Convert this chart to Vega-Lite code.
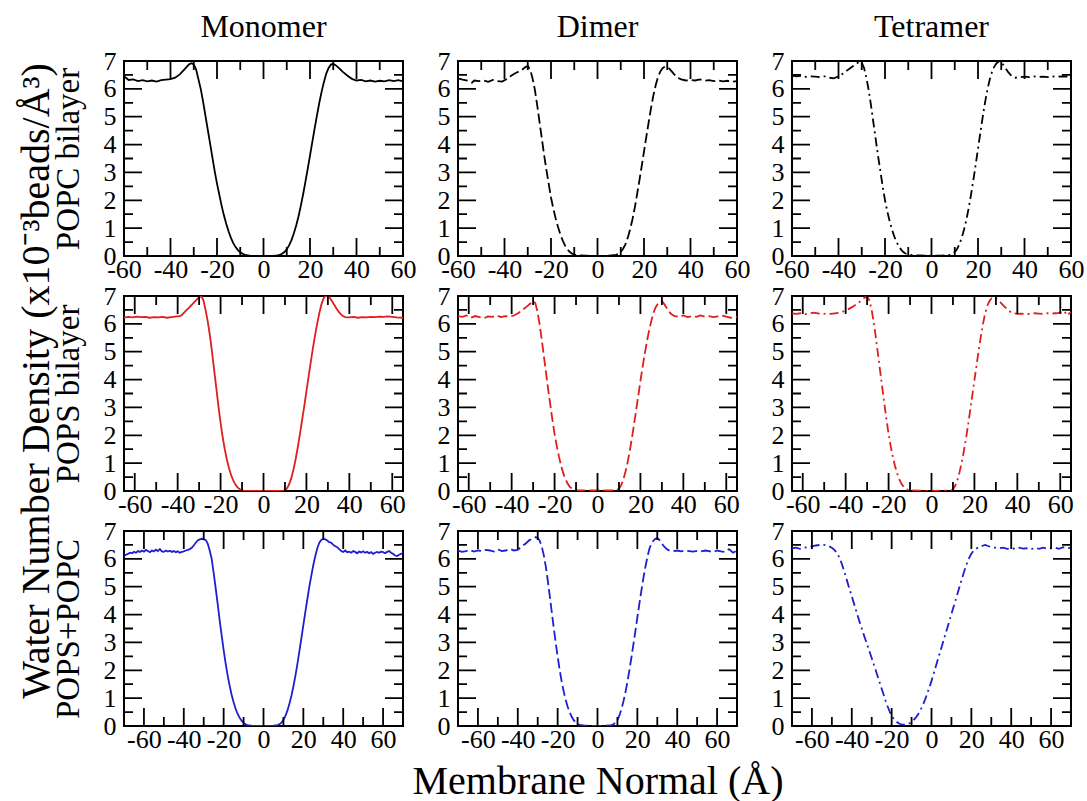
{
  "$schema": "https://vega.github.io/schema/vega-lite/v6.json",
  "padding": {"left": 16, "top": 10, "right": 0, "bottom": 0},
  "background": "white",
  "title": {"text": "Water Number Density (x10⁻³beads/Å³)", "orient": "left", "anchor": "middle", "fontSize": 40, "offset": -6, "dx": 25},
  "columns": 3,
  "bounds": "flush",
  "spacing": {"row": 40, "column": 55},
  "datasets": {
    "xM": [{"x":-60},{"x":-40},{"x":-20},{"x":0},{"x":20},{"x":40},{"x":60}],
    "xm": [{"x":-50},{"x":-30},{"x":-10},{"x":10},{"x":30},{"x":50}],
    "yM": [{"y":0},{"y":1},{"y":2},{"y":3},{"y":4},{"y":5},{"y":6},{"y":7}],
    "ym": [{"y":0.5},{"y":1.5},{"y":2.5},{"y":3.5},{"y":4.5},{"y":5.5},{"y":6.5}],
    "popc_m": [{"x":-60,"y":6.45},{"x":-58,"y":6.32},{"x":-56,"y":6.34},{"x":-54,"y":6.28},{"x":-52,"y":6.31},{"x":-50,"y":6.27},{"x":-48,"y":6.30},{"x":-46,"y":6.26},{"x":-44,"y":6.31},{"x":-42,"y":6.33},{"x":-40,"y":6.35},{"x":-38,"y":6.40},{"x":-36,"y":6.52},{"x":-34,"y":6.70},{"x":-32,"y":6.88},{"x":-31,"y":6.92},{"x":-30,"y":6.88},{"x":-29,"y":6.70},{"x":-28,"y":6.35},{"x":-27,"y":6.00},{"x":-26,"y":5.55},{"x":-25,"y":5.05},{"x":-24,"y":4.55},{"x":-23,"y":4.05},{"x":-22,"y":3.55},{"x":-21,"y":3.05},{"x":-20,"y":2.60},{"x":-19,"y":2.20},{"x":-18,"y":1.80},{"x":-17,"y":1.45},{"x":-16,"y":1.15},{"x":-15,"y":0.88},{"x":-14,"y":0.65},{"x":-13,"y":0.46},{"x":-12,"y":0.32},{"x":-11,"y":0.21},{"x":-10,"y":0.13},{"x":-9,"y":0.08},{"x":-8,"y":0.04},{"x":-6,"y":0.015},{"x":-4,"y":0.005},{"x":-2,"y":0},{"x":0,"y":0},{"x":2,"y":0},{"x":4,"y":0.005},{"x":6,"y":0.02},{"x":7,"y":0.04},{"x":8,"y":0.08},{"x":9,"y":0.14},{"x":10,"y":0.24},{"x":11,"y":0.38},{"x":12,"y":0.56},{"x":13,"y":0.80},{"x":14,"y":1.08},{"x":15,"y":1.40},{"x":16,"y":1.78},{"x":17,"y":2.20},{"x":18,"y":2.65},{"x":19,"y":3.12},{"x":20,"y":3.60},{"x":21,"y":4.10},{"x":22,"y":4.58},{"x":23,"y":5.05},{"x":24,"y":5.50},{"x":25,"y":5.90},{"x":26,"y":6.25},{"x":27,"y":6.55},{"x":28,"y":6.75},{"x":29,"y":6.87},{"x":30,"y":6.90},{"x":31,"y":6.85},{"x":32,"y":6.78},{"x":34,"y":6.62},{"x":36,"y":6.48},{"x":38,"y":6.36},{"x":40,"y":6.30},{"x":42,"y":6.32},{"x":44,"y":6.27},{"x":46,"y":6.30},{"x":48,"y":6.26},{"x":50,"y":6.29},{"x":52,"y":6.27},{"x":54,"y":6.31},{"x":56,"y":6.28},{"x":58,"y":6.31},{"x":60,"y":6.27}],
    "popc_d": [{"x":-60,"y":6.38},{"x":-58,"y":6.33},{"x":-56,"y":6.30},{"x":-54,"y":6.22},{"x":-53,"y":6.30},{"x":-51,"y":6.28},{"x":-49,"y":6.30},{"x":-47,"y":6.25},{"x":-45,"y":6.32},{"x":-43,"y":6.28},{"x":-41,"y":6.26},{"x":-39,"y":6.35},{"x":-37,"y":6.48},{"x":-35,"y":6.58},{"x":-33,"y":6.65},{"x":-31,"y":6.78},{"x":-30,"y":6.82},{"x":-29,"y":6.70},{"x":-28,"y":6.40},{"x":-27,"y":6.00},{"x":-26,"y":5.45},{"x":-25,"y":4.85},{"x":-24,"y":4.25},{"x":-23,"y":3.65},{"x":-22,"y":3.10},{"x":-21,"y":2.60},{"x":-20,"y":2.10},{"x":-19,"y":1.70},{"x":-18,"y":1.35},{"x":-17,"y":1.05},{"x":-16,"y":0.78},{"x":-15,"y":0.56},{"x":-14,"y":0.38},{"x":-13,"y":0.25},{"x":-12,"y":0.15},{"x":-11,"y":0.09},{"x":-10,"y":0.05},{"x":-8,"y":0.02},{"x":-5,"y":0.01},{"x":0,"y":0},{"x":5,"y":0.01},{"x":8,"y":0.04},{"x":9,"y":0.08},{"x":10,"y":0.15},{"x":11,"y":0.26},{"x":12,"y":0.42},{"x":13,"y":0.65},{"x":14,"y":0.95},{"x":15,"y":1.30},{"x":16,"y":1.72},{"x":17,"y":2.20},{"x":18,"y":2.70},{"x":19,"y":3.22},{"x":20,"y":3.75},{"x":21,"y":4.28},{"x":22,"y":4.80},{"x":23,"y":5.30},{"x":24,"y":5.75},{"x":25,"y":6.12},{"x":26,"y":6.42},{"x":27,"y":6.62},{"x":28,"y":6.74},{"x":29,"y":6.80},{"x":30,"y":6.78},{"x":31,"y":6.72},{"x":32,"y":6.62},{"x":33,"y":6.52},{"x":34,"y":6.44},{"x":35,"y":6.38},{"x":36,"y":6.34},{"x":38,"y":6.30},{"x":40,"y":6.32},{"x":42,"y":6.30},{"x":44,"y":6.34},{"x":46,"y":6.29},{"x":48,"y":6.31},{"x":50,"y":6.28},{"x":52,"y":6.30},{"x":54,"y":6.27},{"x":56,"y":6.29},{"x":58,"y":6.26},{"x":60,"y":6.28}],
    "popc_t": [{"x":-60,"y":6.48},{"x":-58,"y":6.45},{"x":-56,"y":6.47},{"x":-54,"y":6.43},{"x":-52,"y":6.45},{"x":-50,"y":6.44},{"x":-48,"y":6.42},{"x":-46,"y":6.45},{"x":-44,"y":6.40},{"x":-42,"y":6.38},{"x":-40,"y":6.45},{"x":-38,"y":6.55},{"x":-36,"y":6.68},{"x":-34,"y":6.80},{"x":-32,"y":6.92},{"x":-31,"y":6.98},{"x":-30,"y":6.95},{"x":-29,"y":6.75},{"x":-28,"y":6.40},{"x":-27,"y":5.95},{"x":-26,"y":5.40},{"x":-25,"y":4.80},{"x":-24,"y":4.20},{"x":-23,"y":3.60},{"x":-22,"y":3.05},{"x":-21,"y":2.50},{"x":-20,"y":2.00},{"x":-19,"y":1.60},{"x":-18,"y":1.25},{"x":-17,"y":0.95},{"x":-16,"y":0.70},{"x":-15,"y":0.50},{"x":-14,"y":0.34},{"x":-13,"y":0.22},{"x":-12,"y":0.13},{"x":-11,"y":0.08},{"x":-10,"y":0.05},{"x":-8,"y":0.03},{"x":-5,"y":0.02},{"x":0,"y":0.01},{"x":5,"y":0.02},{"x":8,"y":0.04},{"x":9,"y":0.08},{"x":10,"y":0.14},{"x":11,"y":0.25},{"x":12,"y":0.42},{"x":13,"y":0.65},{"x":14,"y":0.95},{"x":15,"y":1.30},{"x":16,"y":1.72},{"x":17,"y":2.20},{"x":18,"y":2.72},{"x":19,"y":3.28},{"x":20,"y":3.85},{"x":21,"y":4.42},{"x":22,"y":4.98},{"x":23,"y":5.50},{"x":24,"y":5.95},{"x":25,"y":6.32},{"x":26,"y":6.60},{"x":27,"y":6.80},{"x":28,"y":6.92},{"x":29,"y":6.98},{"x":30,"y":6.95},{"x":31,"y":6.85},{"x":32,"y":6.72},{"x":33,"y":6.60},{"x":34,"y":6.50},{"x":35,"y":6.43},{"x":36,"y":6.40},{"x":38,"y":6.42},{"x":40,"y":6.44},{"x":42,"y":6.42},{"x":44,"y":6.45},{"x":46,"y":6.43},{"x":48,"y":6.44},{"x":50,"y":6.42},{"x":52,"y":6.45},{"x":54,"y":6.43},{"x":56,"y":6.45},{"x":58,"y":6.44},{"x":60,"y":6.50}],
    "pops_m": [{"x":-65,"y":6.22},{"x":-63,"y":6.25},{"x":-61,"y":6.23},{"x":-59,"y":6.26},{"x":-57,"y":6.24},{"x":-55,"y":6.25},{"x":-53,"y":6.22},{"x":-51,"y":6.24},{"x":-49,"y":6.23},{"x":-47,"y":6.25},{"x":-45,"y":6.22},{"x":-43,"y":6.24},{"x":-41,"y":6.26},{"x":-39,"y":6.28},{"x":-38,"y":6.32},{"x":-37,"y":6.40},{"x":-36,"y":6.48},{"x":-35,"y":6.56},{"x":-34,"y":6.64},{"x":-33,"y":6.72},{"x":-32,"y":6.80},{"x":-31,"y":6.88},{"x":-30,"y":6.95},{"x":-29,"y":7.0},{"x":-28,"y":6.85},{"x":-27,"y":6.50},{"x":-26,"y":6.10},{"x":-25,"y":5.60},{"x":-24,"y":5.00},{"x":-23,"y":4.35},{"x":-22,"y":3.70},{"x":-21,"y":3.05},{"x":-20,"y":2.45},{"x":-19,"y":1.92},{"x":-18,"y":1.48},{"x":-17,"y":1.10},{"x":-16,"y":0.80},{"x":-15,"y":0.55},{"x":-14,"y":0.36},{"x":-13,"y":0.22},{"x":-12,"y":0.12},{"x":-11,"y":0.06},{"x":-10,"y":0.02},{"x":-9,"y":0.005},{"x":-5,"y":0},{"x":0,"y":0},{"x":5,"y":0},{"x":9,"y":0.005},{"x":10,"y":0.03},{"x":11,"y":0.10},{"x":12,"y":0.25},{"x":13,"y":0.48},{"x":14,"y":0.78},{"x":15,"y":1.15},{"x":16,"y":1.58},{"x":17,"y":2.05},{"x":18,"y":2.55},{"x":19,"y":3.05},{"x":20,"y":3.58},{"x":21,"y":4.10},{"x":22,"y":4.62},{"x":23,"y":5.12},{"x":24,"y":5.58},{"x":25,"y":6.00},{"x":26,"y":6.38},{"x":27,"y":6.70},{"x":28,"y":6.92},{"x":29,"y":7.0},{"x":30,"y":7.0},{"x":31,"y":6.92},{"x":32,"y":6.80},{"x":33,"y":6.68},{"x":34,"y":6.55},{"x":35,"y":6.44},{"x":36,"y":6.35},{"x":37,"y":6.28},{"x":38,"y":6.24},{"x":40,"y":6.23},{"x":42,"y":6.25},{"x":44,"y":6.22},{"x":46,"y":6.24},{"x":48,"y":6.23},{"x":50,"y":6.25},{"x":52,"y":6.24},{"x":54,"y":6.26},{"x":56,"y":6.25},{"x":58,"y":6.27},{"x":60,"y":6.25},{"x":62,"y":6.23},{"x":65,"y":6.22}],
    "pops_d": [{"x":-65,"y":6.28},{"x":-63,"y":6.25},{"x":-61,"y":6.30},{"x":-59,"y":6.22},{"x":-57,"y":6.28},{"x":-55,"y":6.24},{"x":-53,"y":6.20},{"x":-51,"y":6.27},{"x":-49,"y":6.25},{"x":-47,"y":6.30},{"x":-45,"y":6.24},{"x":-43,"y":6.28},{"x":-41,"y":6.26},{"x":-39,"y":6.30},{"x":-37,"y":6.38},{"x":-35,"y":6.50},{"x":-33,"y":6.62},{"x":-31,"y":6.75},{"x":-30,"y":6.82},{"x":-29,"y":6.75},{"x":-28,"y":6.45},{"x":-27,"y":6.00},{"x":-26,"y":5.45},{"x":-25,"y":4.85},{"x":-24,"y":4.25},{"x":-23,"y":3.65},{"x":-22,"y":3.10},{"x":-21,"y":2.55},{"x":-20,"y":2.05},{"x":-19,"y":1.62},{"x":-18,"y":1.25},{"x":-17,"y":0.92},{"x":-16,"y":0.65},{"x":-15,"y":0.44},{"x":-14,"y":0.28},{"x":-13,"y":0.16},{"x":-12,"y":0.09},{"x":-11,"y":0.05},{"x":-10,"y":0.03},{"x":-5,"y":0.02},{"x":0,"y":0.02},{"x":5,"y":0.02},{"x":9,"y":0.03},{"x":10,"y":0.08},{"x":11,"y":0.20},{"x":12,"y":0.40},{"x":13,"y":0.68},{"x":14,"y":1.02},{"x":15,"y":1.42},{"x":16,"y":1.88},{"x":17,"y":2.38},{"x":18,"y":2.90},{"x":19,"y":3.42},{"x":20,"y":3.95},{"x":21,"y":4.45},{"x":22,"y":4.92},{"x":23,"y":5.35},{"x":24,"y":5.75},{"x":25,"y":6.08},{"x":26,"y":6.38},{"x":27,"y":6.58},{"x":28,"y":6.70},{"x":29,"y":6.78},{"x":30,"y":6.82},{"x":31,"y":6.72},{"x":32,"y":6.60},{"x":33,"y":6.48},{"x":34,"y":6.38},{"x":35,"y":6.32},{"x":36,"y":6.28},{"x":38,"y":6.25},{"x":40,"y":6.30},{"x":42,"y":6.24},{"x":44,"y":6.28},{"x":46,"y":6.25},{"x":48,"y":6.30},{"x":50,"y":6.26},{"x":52,"y":6.28},{"x":54,"y":6.24},{"x":56,"y":6.27},{"x":58,"y":6.30},{"x":60,"y":6.26},{"x":62,"y":6.22},{"x":65,"y":6.25}],
    "pops_t": [{"x":-65,"y":6.38},{"x":-63,"y":6.36},{"x":-61,"y":6.38},{"x":-59,"y":6.35},{"x":-57,"y":6.37},{"x":-55,"y":6.40},{"x":-53,"y":6.38},{"x":-51,"y":6.35},{"x":-49,"y":6.37},{"x":-47,"y":6.36},{"x":-45,"y":6.38},{"x":-43,"y":6.40},{"x":-41,"y":6.45},{"x":-39,"y":6.52},{"x":-37,"y":6.60},{"x":-35,"y":6.70},{"x":-33,"y":6.82},{"x":-31,"y":6.95},{"x":-30,"y":6.98},{"x":-29,"y":6.85},{"x":-28,"y":6.55},{"x":-27,"y":6.10},{"x":-26,"y":5.55},{"x":-25,"y":4.95},{"x":-24,"y":4.35},{"x":-23,"y":3.75},{"x":-22,"y":3.15},{"x":-21,"y":2.58},{"x":-20,"y":2.05},{"x":-19,"y":1.60},{"x":-18,"y":1.22},{"x":-17,"y":0.90},{"x":-16,"y":0.63},{"x":-15,"y":0.42},{"x":-14,"y":0.26},{"x":-13,"y":0.15},{"x":-12,"y":0.08},{"x":-11,"y":0.04},{"x":-10,"y":0.02},{"x":-5,"y":0.01},{"x":0,"y":0},{"x":5,"y":0.01},{"x":9,"y":0.02},{"x":10,"y":0.06},{"x":11,"y":0.18},{"x":12,"y":0.38},{"x":13,"y":0.65},{"x":14,"y":1.00},{"x":15,"y":1.40},{"x":16,"y":1.85},{"x":17,"y":2.35},{"x":18,"y":2.88},{"x":19,"y":3.42},{"x":20,"y":3.98},{"x":21,"y":4.52},{"x":22,"y":5.05},{"x":23,"y":5.55},{"x":24,"y":6.00},{"x":25,"y":6.38},{"x":26,"y":6.65},{"x":27,"y":6.82},{"x":28,"y":6.92},{"x":29,"y":6.95},{"x":30,"y":6.92},{"x":31,"y":6.85},{"x":32,"y":6.78},{"x":33,"y":6.70},{"x":34,"y":6.62},{"x":35,"y":6.55},{"x":36,"y":6.48},{"x":37,"y":6.42},{"x":38,"y":6.38},{"x":40,"y":6.36},{"x":42,"y":6.37},{"x":44,"y":6.35},{"x":46,"y":6.36},{"x":48,"y":6.38},{"x":50,"y":6.37},{"x":52,"y":6.36},{"x":54,"y":6.38},{"x":56,"y":6.37},{"x":58,"y":6.38},{"x":60,"y":6.40},{"x":62,"y":6.45},{"x":63,"y":6.30},{"x":65,"y":6.42}],
    "mix_m": [{"x":-70,"y":6.10},{"x":-69,"y":6.15},{"x":-68,"y":6.18},{"x":-67,"y":6.22},{"x":-66,"y":6.20},{"x":-65,"y":6.25},{"x":-64,"y":6.22},{"x":-63,"y":6.28},{"x":-62,"y":6.25},{"x":-61,"y":6.30},{"x":-60,"y":6.26},{"x":-59,"y":6.32},{"x":-58,"y":6.28},{"x":-57,"y":6.24},{"x":-56,"y":6.30},{"x":-55,"y":6.27},{"x":-54,"y":6.33},{"x":-53,"y":6.28},{"x":-52,"y":6.35},{"x":-51,"y":6.27},{"x":-50,"y":6.25},{"x":-49,"y":6.30},{"x":-48,"y":6.26},{"x":-47,"y":6.29},{"x":-46,"y":6.25},{"x":-45,"y":6.28},{"x":-44,"y":6.24},{"x":-43,"y":6.27},{"x":-42,"y":6.22},{"x":-41,"y":6.25},{"x":-40,"y":6.27},{"x":-39,"y":6.30},{"x":-38,"y":6.32},{"x":-37,"y":6.35},{"x":-36,"y":6.40},{"x":-35,"y":6.48},{"x":-34,"y":6.58},{"x":-33,"y":6.66},{"x":-32,"y":6.70},{"x":-31,"y":6.72},{"x":-30,"y":6.70},{"x":-29,"y":6.68},{"x":-28,"y":6.55},{"x":-27,"y":6.30},{"x":-26,"y":6.00},{"x":-25,"y":5.50},{"x":-24,"y":4.95},{"x":-23,"y":4.38},{"x":-22,"y":3.80},{"x":-21,"y":3.25},{"x":-20,"y":2.72},{"x":-19,"y":2.25},{"x":-18,"y":1.82},{"x":-17,"y":1.45},{"x":-16,"y":1.12},{"x":-15,"y":0.85},{"x":-14,"y":0.62},{"x":-13,"y":0.44},{"x":-12,"y":0.30},{"x":-11,"y":0.19},{"x":-10,"y":0.11},{"x":-9,"y":0.06},{"x":-8,"y":0.03},{"x":-6,"y":0.01},{"x":-3,"y":0},{"x":0,"y":0},{"x":3,"y":0},{"x":5,"y":0.01},{"x":7,"y":0.03},{"x":8,"y":0.06},{"x":9,"y":0.12},{"x":10,"y":0.22},{"x":11,"y":0.36},{"x":12,"y":0.55},{"x":13,"y":0.80},{"x":14,"y":1.08},{"x":15,"y":1.42},{"x":16,"y":1.80},{"x":17,"y":2.22},{"x":18,"y":2.68},{"x":19,"y":3.15},{"x":20,"y":3.62},{"x":21,"y":4.10},{"x":22,"y":4.55},{"x":23,"y":5.00},{"x":24,"y":5.40},{"x":25,"y":5.78},{"x":26,"y":6.10},{"x":27,"y":6.38},{"x":28,"y":6.58},{"x":29,"y":6.68},{"x":30,"y":6.72},{"x":31,"y":6.70},{"x":32,"y":6.66},{"x":33,"y":6.60},{"x":34,"y":6.58},{"x":35,"y":6.50},{"x":36,"y":6.45},{"x":37,"y":6.42},{"x":38,"y":6.35},{"x":39,"y":6.28},{"x":40,"y":6.25},{"x":41,"y":6.30},{"x":42,"y":6.24},{"x":43,"y":6.26},{"x":44,"y":6.22},{"x":45,"y":6.28},{"x":46,"y":6.25},{"x":47,"y":6.20},{"x":48,"y":6.26},{"x":49,"y":6.23},{"x":50,"y":6.27},{"x":51,"y":6.22},{"x":52,"y":6.25},{"x":53,"y":6.20},{"x":54,"y":6.24},{"x":55,"y":6.18},{"x":56,"y":6.22},{"x":57,"y":6.25},{"x":58,"y":6.22},{"x":59,"y":6.26},{"x":60,"y":6.24},{"x":61,"y":6.20},{"x":62,"y":6.25},{"x":63,"y":6.28},{"x":64,"y":6.22},{"x":65,"y":6.18},{"x":66,"y":6.12},{"x":67,"y":6.10},{"x":68,"y":6.15},{"x":69,"y":6.18},{"x":70,"y":6.20}],
    "mix_d": [{"x":-70,"y":6.30},{"x":-68,"y":6.25},{"x":-66,"y":6.28},{"x":-64,"y":6.32},{"x":-62,"y":6.26},{"x":-60,"y":6.30},{"x":-58,"y":6.28},{"x":-56,"y":6.32},{"x":-54,"y":6.30},{"x":-52,"y":6.26},{"x":-50,"y":6.34},{"x":-48,"y":6.28},{"x":-46,"y":6.30},{"x":-44,"y":6.36},{"x":-42,"y":6.30},{"x":-40,"y":6.32},{"x":-38,"y":6.45},{"x":-36,"y":6.55},{"x":-34,"y":6.68},{"x":-32,"y":6.72},{"x":-31,"y":6.78},{"x":-30,"y":6.75},{"x":-29,"y":6.65},{"x":-28,"y":6.45},{"x":-27,"y":6.15},{"x":-26,"y":5.75},{"x":-25,"y":5.25},{"x":-24,"y":4.70},{"x":-23,"y":4.12},{"x":-22,"y":3.55},{"x":-21,"y":3.00},{"x":-20,"y":2.50},{"x":-19,"y":2.02},{"x":-18,"y":1.60},{"x":-17,"y":1.25},{"x":-16,"y":0.95},{"x":-15,"y":0.70},{"x":-14,"y":0.50},{"x":-13,"y":0.34},{"x":-12,"y":0.22},{"x":-11,"y":0.13},{"x":-10,"y":0.07},{"x":-9,"y":0.04},{"x":-7,"y":0.02},{"x":-4,"y":0.01},{"x":0,"y":0},{"x":4,"y":0.01},{"x":7,"y":0.03},{"x":8,"y":0.06},{"x":9,"y":0.12},{"x":10,"y":0.22},{"x":11,"y":0.38},{"x":12,"y":0.60},{"x":13,"y":0.88},{"x":14,"y":1.20},{"x":15,"y":1.58},{"x":16,"y":2.00},{"x":17,"y":2.45},{"x":18,"y":2.92},{"x":19,"y":3.40},{"x":20,"y":3.90},{"x":21,"y":4.38},{"x":22,"y":4.85},{"x":23,"y":5.30},{"x":24,"y":5.70},{"x":25,"y":6.05},{"x":26,"y":6.35},{"x":27,"y":6.55},{"x":28,"y":6.65},{"x":29,"y":6.72},{"x":30,"y":6.75},{"x":31,"y":6.68},{"x":32,"y":6.58},{"x":33,"y":6.48},{"x":34,"y":6.40},{"x":35,"y":6.34},{"x":36,"y":6.30},{"x":38,"y":6.28},{"x":40,"y":6.30},{"x":42,"y":6.27},{"x":44,"y":6.30},{"x":46,"y":6.28},{"x":48,"y":6.26},{"x":50,"y":6.29},{"x":52,"y":6.27},{"x":54,"y":6.30},{"x":56,"y":6.28},{"x":58,"y":6.24},{"x":60,"y":6.30},{"x":62,"y":6.27},{"x":64,"y":6.25},{"x":66,"y":6.35},{"x":68,"y":6.22},{"x":70,"y":6.30}],
    "mix_t": [{"x":-70,"y":6.38},{"x":-68,"y":6.40},{"x":-66,"y":6.36},{"x":-64,"y":6.40},{"x":-62,"y":6.42},{"x":-60,"y":6.45},{"x":-58,"y":6.48},{"x":-56,"y":6.50},{"x":-54,"y":6.50},{"x":-52,"y":6.47},{"x":-50,"y":6.40},{"x":-49,"y":6.34},{"x":-48,"y":6.26},{"x":-47,"y":6.15},{"x":-46,"y":6.02},{"x":-45,"y":5.82},{"x":-44,"y":5.60},{"x":-43,"y":5.36},{"x":-42,"y":5.12},{"x":-41,"y":4.88},{"x":-40,"y":4.65},{"x":-39,"y":4.42},{"x":-38,"y":4.18},{"x":-37,"y":3.95},{"x":-36,"y":3.72},{"x":-35,"y":3.50},{"x":-34,"y":3.28},{"x":-33,"y":3.07},{"x":-32,"y":2.86},{"x":-31,"y":2.65},{"x":-30,"y":2.44},{"x":-29,"y":2.22},{"x":-28,"y":2.00},{"x":-27,"y":1.78},{"x":-26,"y":1.56},{"x":-25,"y":1.34},{"x":-24,"y":1.12},{"x":-23,"y":0.90},{"x":-22,"y":0.70},{"x":-21,"y":0.52},{"x":-20,"y":0.37},{"x":-19,"y":0.26},{"x":-18,"y":0.18},{"x":-17,"y":0.12},{"x":-16,"y":0.08},{"x":-15,"y":0.06},{"x":-14,"y":0.05},{"x":-13,"y":0.05},{"x":-12,"y":0.07},{"x":-11,"y":0.10},{"x":-10,"y":0.15},{"x":-9,"y":0.21},{"x":-8,"y":0.29},{"x":-7,"y":0.39},{"x":-6,"y":0.51},{"x":-5,"y":0.65},{"x":-4,"y":0.81},{"x":-3,"y":0.99},{"x":-2,"y":1.19},{"x":-1,"y":1.40},{"x":0,"y":1.62},{"x":1,"y":1.86},{"x":2,"y":2.10},{"x":3,"y":2.34},{"x":4,"y":2.58},{"x":5,"y":2.82},{"x":6,"y":3.06},{"x":7,"y":3.30},{"x":8,"y":3.54},{"x":9,"y":3.78},{"x":10,"y":4.02},{"x":11,"y":4.26},{"x":12,"y":4.50},{"x":13,"y":4.74},{"x":14,"y":4.98},{"x":15,"y":5.22},{"x":16,"y":5.46},{"x":17,"y":5.68},{"x":18,"y":5.88},{"x":19,"y":6.05},{"x":20,"y":6.18},{"x":21,"y":6.28},{"x":22,"y":6.35},{"x":24,"y":6.43},{"x":26,"y":6.48},{"x":27,"y":6.50},{"x":28,"y":6.47},{"x":30,"y":6.42},{"x":32,"y":6.40},{"x":34,"y":6.38},{"x":36,"y":6.40},{"x":38,"y":6.36},{"x":40,"y":6.38},{"x":42,"y":6.36},{"x":44,"y":6.40},{"x":46,"y":6.37},{"x":48,"y":6.38},{"x":50,"y":6.35},{"x":52,"y":6.39},{"x":54,"y":6.36},{"x":56,"y":6.40},{"x":58,"y":6.37},{"x":60,"y":6.38},{"x":62,"y":6.40},{"x":64,"y":6.36},{"x":66,"y":6.42},{"x":68,"y":6.38},{"x":70,"y":6.40}]
  },
  "concat": [
    {"width": 279, "height": 195, "title": {"text": "Monomer"},
     "encoding": {"x": {"type": "quantitative", "scale": {"domain": [-60, 60], "nice": false, "zero": false}, "axis": {"orient": "bottom", "values": [-60,-40,-20,0,20,40,60], "labelExpr": "'' + datum.value", "ticks": false, "title": null}},
                  "y": {"type": "quantitative", "scale": {"domain": [0, 7], "nice": false}, "axis": {"orient": "left", "values": [0,1,2,3,4,5,6,7], "labelExpr": "'' + datum.value", "ticks": false, "title": "POPC bilayer"}}},
     "layer": [
      {"data": {"name": "popc_m"}, "mark": {"type": "line", "color": "#000000", "strokeWidth": 1.8, "clip": true}, "encoding": {"x": {"field": "x"}, "y": {"field": "y"}}},
      {"data": {"name": "xM"}, "mark": {"type": "rule", "color": "#000000", "strokeWidth": 1.8, "strokeDash": [18, 159]}, "encoding": {"x": {"field": "x"}, "y": {"datum": 0}, "y2": {"datum": 7}}},
      {"data": {"name": "xm"}, "mark": {"type": "rule", "color": "#000000", "strokeWidth": 1.8, "strokeDash": [9, 177]}, "encoding": {"x": {"field": "x"}, "y": {"datum": 0}, "y2": {"datum": 7}}},
      {"data": {"name": "yM"}, "mark": {"type": "rule", "color": "#000000", "strokeWidth": 1.8, "strokeDash": [18, 243]}, "encoding": {"y": {"field": "y"}, "x": {"datum": -60}, "x2": {"datum": 60}}},
      {"data": {"name": "ym"}, "mark": {"type": "rule", "color": "#000000", "strokeWidth": 1.8, "strokeDash": [9, 261]}, "encoding": {"y": {"field": "y"}, "x": {"datum": -60}, "x2": {"datum": 60}}}
     ]},
    {"width": 279, "height": 195, "title": {"text": "Dimer"},
     "encoding": {"x": {"type": "quantitative", "scale": {"domain": [-60, 60], "nice": false, "zero": false}, "axis": {"orient": "bottom", "values": [-60,-40,-20,0,20,40,60], "labelExpr": "'' + datum.value", "ticks": false, "title": null}},
                  "y": {"type": "quantitative", "scale": {"domain": [0, 7], "nice": false}, "axis": {"orient": "left", "values": [0,1,2,3,4,5,6,7], "labelExpr": "'' + datum.value", "ticks": false, "title": null}}},
     "layer": [
      {"data": {"name": "popc_d"}, "mark": {"type": "line", "color": "#000000", "strokeWidth": 1.8, "strokeDash": [10, 4], "clip": true}, "encoding": {"x": {"field": "x"}, "y": {"field": "y"}}},
      {"data": {"name": "xM"}, "mark": {"type": "rule", "color": "#000000", "strokeWidth": 1.8, "strokeDash": [18, 159]}, "encoding": {"x": {"field": "x"}, "y": {"datum": 0}, "y2": {"datum": 7}}},
      {"data": {"name": "xm"}, "mark": {"type": "rule", "color": "#000000", "strokeWidth": 1.8, "strokeDash": [9, 177]}, "encoding": {"x": {"field": "x"}, "y": {"datum": 0}, "y2": {"datum": 7}}},
      {"data": {"name": "yM"}, "mark": {"type": "rule", "color": "#000000", "strokeWidth": 1.8, "strokeDash": [18, 243]}, "encoding": {"y": {"field": "y"}, "x": {"datum": -60}, "x2": {"datum": 60}}},
      {"data": {"name": "ym"}, "mark": {"type": "rule", "color": "#000000", "strokeWidth": 1.8, "strokeDash": [9, 261]}, "encoding": {"y": {"field": "y"}, "x": {"datum": -60}, "x2": {"datum": 60}}}
     ]},
    {"width": 279, "height": 195, "title": {"text": "Tetramer"},
     "encoding": {"x": {"type": "quantitative", "scale": {"domain": [-60, 60], "nice": false, "zero": false}, "axis": {"orient": "bottom", "values": [-60,-40,-20,0,20,40,60], "labelExpr": "'' + datum.value", "ticks": false, "title": null}},
                  "y": {"type": "quantitative", "scale": {"domain": [0, 7], "nice": false}, "axis": {"orient": "left", "values": [0,1,2,3,4,5,6,7], "labelExpr": "'' + datum.value", "ticks": false, "title": null}}},
     "layer": [
      {"data": {"name": "popc_t"}, "mark": {"type": "line", "color": "#000000", "strokeWidth": 1.8, "strokeDash": [9, 4, 2, 4], "clip": true}, "encoding": {"x": {"field": "x"}, "y": {"field": "y"}}},
      {"data": {"name": "xM"}, "mark": {"type": "rule", "color": "#000000", "strokeWidth": 1.8, "strokeDash": [18, 159]}, "encoding": {"x": {"field": "x"}, "y": {"datum": 0}, "y2": {"datum": 7}}},
      {"data": {"name": "xm"}, "mark": {"type": "rule", "color": "#000000", "strokeWidth": 1.8, "strokeDash": [9, 177]}, "encoding": {"x": {"field": "x"}, "y": {"datum": 0}, "y2": {"datum": 7}}},
      {"data": {"name": "yM"}, "mark": {"type": "rule", "color": "#000000", "strokeWidth": 1.8, "strokeDash": [18, 243]}, "encoding": {"y": {"field": "y"}, "x": {"datum": -60}, "x2": {"datum": 60}}},
      {"data": {"name": "ym"}, "mark": {"type": "rule", "color": "#000000", "strokeWidth": 1.8, "strokeDash": [9, 261]}, "encoding": {"y": {"field": "y"}, "x": {"datum": -60}, "x2": {"datum": 60}}}
     ]},
    {"width": 279, "height": 195,
     "encoding": {"x": {"type": "quantitative", "scale": {"domain": [-65, 65], "nice": false, "zero": false}, "axis": {"orient": "bottom", "values": [-60,-40,-20,0,20,40,60], "labelExpr": "'' + datum.value", "ticks": false, "title": null}},
                  "y": {"type": "quantitative", "scale": {"domain": [0, 7], "nice": false}, "axis": {"orient": "left", "values": [0,1,2,3,4,5,6,7], "labelExpr": "'' + datum.value", "ticks": false, "title": "POPS bilayer"}}},
     "layer": [
      {"data": {"name": "pops_m"}, "mark": {"type": "line", "color": "#e01e1e", "strokeWidth": 1.8, "clip": true}, "encoding": {"x": {"field": "x"}, "y": {"field": "y"}}},
      {"data": {"name": "xM"}, "mark": {"type": "rule", "color": "#000000", "strokeWidth": 1.8, "strokeDash": [18, 159]}, "encoding": {"x": {"field": "x"}, "y": {"datum": 0}, "y2": {"datum": 7}}},
      {"data": {"name": "xm"}, "mark": {"type": "rule", "color": "#000000", "strokeWidth": 1.8, "strokeDash": [9, 177]}, "encoding": {"x": {"field": "x"}, "y": {"datum": 0}, "y2": {"datum": 7}}},
      {"data": {"name": "yM"}, "mark": {"type": "rule", "color": "#000000", "strokeWidth": 1.8, "strokeDash": [18, 243]}, "encoding": {"y": {"field": "y"}, "x": {"datum": -65}, "x2": {"datum": 65}}},
      {"data": {"name": "ym"}, "mark": {"type": "rule", "color": "#000000", "strokeWidth": 1.8, "strokeDash": [9, 261]}, "encoding": {"y": {"field": "y"}, "x": {"datum": -65}, "x2": {"datum": 65}}}
     ]},
    {"width": 279, "height": 195,
     "encoding": {"x": {"type": "quantitative", "scale": {"domain": [-65, 65], "nice": false, "zero": false}, "axis": {"orient": "bottom", "values": [-60,-40,-20,0,20,40,60], "labelExpr": "'' + datum.value", "ticks": false, "title": null}},
                  "y": {"type": "quantitative", "scale": {"domain": [0, 7], "nice": false}, "axis": {"orient": "left", "values": [0,1,2,3,4,5,6,7], "labelExpr": "'' + datum.value", "ticks": false, "title": null}}},
     "layer": [
      {"data": {"name": "pops_d"}, "mark": {"type": "line", "color": "#e01e1e", "strokeWidth": 1.8, "strokeDash": [10, 4], "clip": true}, "encoding": {"x": {"field": "x"}, "y": {"field": "y"}}},
      {"data": {"name": "xM"}, "mark": {"type": "rule", "color": "#000000", "strokeWidth": 1.8, "strokeDash": [18, 159]}, "encoding": {"x": {"field": "x"}, "y": {"datum": 0}, "y2": {"datum": 7}}},
      {"data": {"name": "xm"}, "mark": {"type": "rule", "color": "#000000", "strokeWidth": 1.8, "strokeDash": [9, 177]}, "encoding": {"x": {"field": "x"}, "y": {"datum": 0}, "y2": {"datum": 7}}},
      {"data": {"name": "yM"}, "mark": {"type": "rule", "color": "#000000", "strokeWidth": 1.8, "strokeDash": [18, 243]}, "encoding": {"y": {"field": "y"}, "x": {"datum": -65}, "x2": {"datum": 65}}},
      {"data": {"name": "ym"}, "mark": {"type": "rule", "color": "#000000", "strokeWidth": 1.8, "strokeDash": [9, 261]}, "encoding": {"y": {"field": "y"}, "x": {"datum": -65}, "x2": {"datum": 65}}}
     ]},
    {"width": 279, "height": 195,
     "encoding": {"x": {"type": "quantitative", "scale": {"domain": [-65, 65], "nice": false, "zero": false}, "axis": {"orient": "bottom", "values": [-60,-40,-20,0,20,40,60], "labelExpr": "'' + datum.value", "ticks": false, "title": null}},
                  "y": {"type": "quantitative", "scale": {"domain": [0, 7], "nice": false}, "axis": {"orient": "left", "values": [0,1,2,3,4,5,6,7], "labelExpr": "'' + datum.value", "ticks": false, "title": null}}},
     "layer": [
      {"data": {"name": "pops_t"}, "mark": {"type": "line", "color": "#e01e1e", "strokeWidth": 1.8, "strokeDash": [9, 4, 2, 4], "clip": true}, "encoding": {"x": {"field": "x"}, "y": {"field": "y"}}},
      {"data": {"name": "xM"}, "mark": {"type": "rule", "color": "#000000", "strokeWidth": 1.8, "strokeDash": [18, 159]}, "encoding": {"x": {"field": "x"}, "y": {"datum": 0}, "y2": {"datum": 7}}},
      {"data": {"name": "xm"}, "mark": {"type": "rule", "color": "#000000", "strokeWidth": 1.8, "strokeDash": [9, 177]}, "encoding": {"x": {"field": "x"}, "y": {"datum": 0}, "y2": {"datum": 7}}},
      {"data": {"name": "yM"}, "mark": {"type": "rule", "color": "#000000", "strokeWidth": 1.8, "strokeDash": [18, 243]}, "encoding": {"y": {"field": "y"}, "x": {"datum": -65}, "x2": {"datum": 65}}},
      {"data": {"name": "ym"}, "mark": {"type": "rule", "color": "#000000", "strokeWidth": 1.8, "strokeDash": [9, 261]}, "encoding": {"y": {"field": "y"}, "x": {"datum": -65}, "x2": {"datum": 65}}}
     ]},
    {"width": 279, "height": 195,
     "encoding": {"x": {"type": "quantitative", "scale": {"domain": [-70, 70], "nice": false, "zero": false}, "axis": {"orient": "bottom", "values": [-60,-40,-20,0,20,40,60], "labelExpr": "'' + datum.value", "ticks": false, "title": null}},
                  "y": {"type": "quantitative", "scale": {"domain": [0, 7], "nice": false}, "axis": {"orient": "left", "values": [0,1,2,3,4,5,6,7], "labelExpr": "'' + datum.value", "ticks": false, "title": "POPS+POPC"}}},
     "layer": [
      {"data": {"name": "mix_m"}, "mark": {"type": "line", "color": "#1e1ed2", "strokeWidth": 1.8, "clip": true}, "encoding": {"x": {"field": "x"}, "y": {"field": "y"}}},
      {"data": {"name": "xM"}, "mark": {"type": "rule", "color": "#000000", "strokeWidth": 1.8, "strokeDash": [18, 159]}, "encoding": {"x": {"field": "x"}, "y": {"datum": 0}, "y2": {"datum": 7}}},
      {"data": {"name": "xm"}, "mark": {"type": "rule", "color": "#000000", "strokeWidth": 1.8, "strokeDash": [9, 177]}, "encoding": {"x": {"field": "x"}, "y": {"datum": 0}, "y2": {"datum": 7}}},
      {"data": {"name": "yM"}, "mark": {"type": "rule", "color": "#000000", "strokeWidth": 1.8, "strokeDash": [18, 243]}, "encoding": {"y": {"field": "y"}, "x": {"datum": -70}, "x2": {"datum": 70}}},
      {"data": {"name": "ym"}, "mark": {"type": "rule", "color": "#000000", "strokeWidth": 1.8, "strokeDash": [9, 261]}, "encoding": {"y": {"field": "y"}, "x": {"datum": -70}, "x2": {"datum": 70}}}
     ]},
    {"width": 279, "height": 195,
     "encoding": {"x": {"type": "quantitative", "scale": {"domain": [-70, 70], "nice": false, "zero": false}, "axis": {"orient": "bottom", "values": [-60,-40,-20,0,20,40,60], "labelExpr": "'' + datum.value", "ticks": false, "title": "Membrane Normal (Å)", "titleFontSize": 40, "titlePadding": 9}},
                  "y": {"type": "quantitative", "scale": {"domain": [0, 7], "nice": false}, "axis": {"orient": "left", "values": [0,1,2,3,4,5,6,7], "labelExpr": "'' + datum.value", "ticks": false, "title": null}}},
     "layer": [
      {"data": {"name": "mix_d"}, "mark": {"type": "line", "color": "#1e1ed2", "strokeWidth": 1.8, "strokeDash": [10, 4], "clip": true}, "encoding": {"x": {"field": "x"}, "y": {"field": "y"}}},
      {"data": {"name": "xM"}, "mark": {"type": "rule", "color": "#000000", "strokeWidth": 1.8, "strokeDash": [18, 159]}, "encoding": {"x": {"field": "x"}, "y": {"datum": 0}, "y2": {"datum": 7}}},
      {"data": {"name": "xm"}, "mark": {"type": "rule", "color": "#000000", "strokeWidth": 1.8, "strokeDash": [9, 177]}, "encoding": {"x": {"field": "x"}, "y": {"datum": 0}, "y2": {"datum": 7}}},
      {"data": {"name": "yM"}, "mark": {"type": "rule", "color": "#000000", "strokeWidth": 1.8, "strokeDash": [18, 243]}, "encoding": {"y": {"field": "y"}, "x": {"datum": -70}, "x2": {"datum": 70}}},
      {"data": {"name": "ym"}, "mark": {"type": "rule", "color": "#000000", "strokeWidth": 1.8, "strokeDash": [9, 261]}, "encoding": {"y": {"field": "y"}, "x": {"datum": -70}, "x2": {"datum": 70}}}
     ]},
    {"width": 279, "height": 195,
     "encoding": {"x": {"type": "quantitative", "scale": {"domain": [-70, 70], "nice": false, "zero": false}, "axis": {"orient": "bottom", "values": [-60,-40,-20,0,20,40,60], "labelExpr": "'' + datum.value", "ticks": false, "title": null}},
                  "y": {"type": "quantitative", "scale": {"domain": [0, 7], "nice": false}, "axis": {"orient": "left", "values": [0,1,2,3,4,5,6,7], "labelExpr": "'' + datum.value", "ticks": false, "title": null}}},
     "layer": [
      {"data": {"name": "mix_t"}, "mark": {"type": "line", "color": "#1e1ed2", "strokeWidth": 1.8, "strokeDash": [9, 4, 2, 4], "clip": true}, "encoding": {"x": {"field": "x"}, "y": {"field": "y"}}},
      {"data": {"name": "xM"}, "mark": {"type": "rule", "color": "#000000", "strokeWidth": 1.8, "strokeDash": [18, 159]}, "encoding": {"x": {"field": "x"}, "y": {"datum": 0}, "y2": {"datum": 7}}},
      {"data": {"name": "xm"}, "mark": {"type": "rule", "color": "#000000", "strokeWidth": 1.8, "strokeDash": [9, 177]}, "encoding": {"x": {"field": "x"}, "y": {"datum": 0}, "y2": {"datum": 7}}},
      {"data": {"name": "yM"}, "mark": {"type": "rule", "color": "#000000", "strokeWidth": 1.8, "strokeDash": [18, 243]}, "encoding": {"y": {"field": "y"}, "x": {"datum": -70}, "x2": {"datum": 70}}},
      {"data": {"name": "ym"}, "mark": {"type": "rule", "color": "#000000", "strokeWidth": 1.8, "strokeDash": [9, 261]}, "encoding": {"y": {"field": "y"}, "x": {"datum": -70}, "x2": {"datum": 70}}}
     ]}
  ],
  "config": {
    "view": {"stroke": "#000000", "strokeWidth": 2},
    "font": "Liberation Serif",
    "axis": {"grid": false, "domain": false, "labelFont": "Liberation Serif", "labelFontSize": 26, "labelColor": "#000000", "labelOverlap": false, "labelFlush": false, "labelBound": false, "titleFont": "Liberation Serif", "titleFontWeight": "normal", "titleFontSize": 33, "titleColor": "#000000", "titlePadding": 18},
    "axisX": {"labelPadding": 0},
    "axisY": {"labelPadding": 8},
    "title": {"font": "Liberation Serif", "fontWeight": "normal", "fontSize": 32, "color": "#000000", "anchor": "middle", "offset": 0}
  }
}
